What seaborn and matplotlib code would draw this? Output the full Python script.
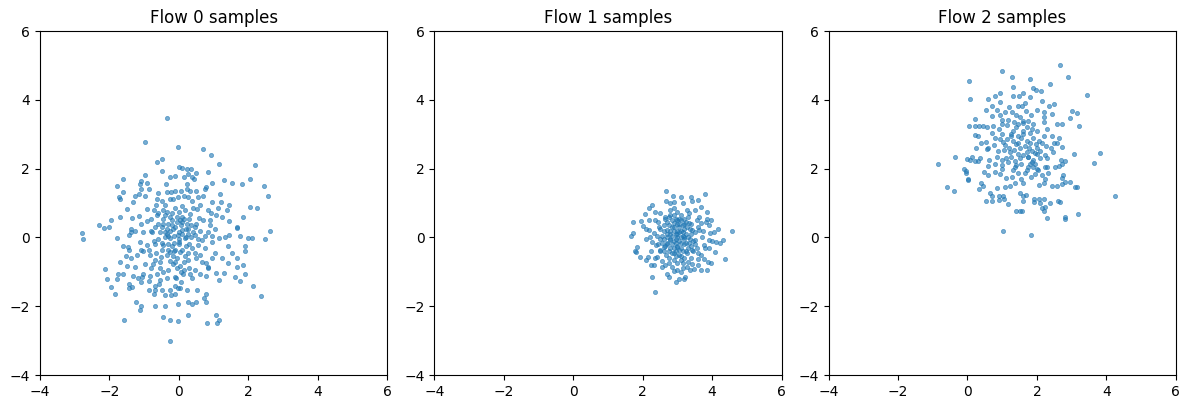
import numpy as np
import pandas as pd
import matplotlib
matplotlib.use("Agg")
import matplotlib.pyplot as plt
import seaborn as sns

titles = ["Flow 0 samples", "Flow 1 samples", "Flow 2 samples"]
ticks = [-4, -2, 0, 2, 4, 6]

# (x, y) samples
flow0_pts = [
    (-0.33,3.47),(-0.97,2.77),(-0.62,2.18),(-0.48,2.27),(-0.48,1.92),(-0.25,1.75),(-0.1,1.78),(-0.97,1.81),
    (-1.6,1.69),(-1.77,1.49),(-1.62,1.32),(-1.1,1.65),(-1.12,1.55),(-1.1,1.42),(-0.91,1.58),(-0.85,1.42),
    (-1.25,1.22),(-1.16,1.26),(-0.97,1.2),(-1.73,1.17),(-1.71,1.13),(-1.31,1.03),(-1.48,0.82),(-0.6,1.28),
    (-0.37,1.55),(-0.35,1.32),(-0.23,1.32),(-0.1,1.36),(-0.64,1.11),(-0.48,1.05),(-0.25,1.11),(-0.16,1.13),
    (-0.91,0.82),(-0.71,0.8),(-1.71,0.6),(-1.35,0.56),(-1.14,0.62),(-1.96,0.51),(-2.29,0.35),(-2.16,0.27),
    (-2.0,0.29),(-1.37,0.25),(-1.08,0.38),(-0.91,0.49),(-0.79,0.55),(-0.64,0.64),(-0.46,0.8),
    (-0.03,2.64),(0.68,2.56),(0.91,2.4),(1.14,2.15),(2.18,2.1),(-0.01,2.04),(0.1,2.02),(0.22,1.98),(0.35,1.98),
    (0.14,1.75),(0.27,1.84),(0.37,1.75),(0.43,1.69),(0.5,1.86),(0.85,1.9),(1.29,1.66),(1.52,1.58),(1.81,1.55),
    (2.06,1.69),(2.46,1.51),(2.56,1.22),(0.95,1.57),(0.22,1.55),(0.79,1.46),(0.76,1.42),(0.24,1.4),(0.06,1.34),
    (0.31,1.34),(0.49,1.34),(1.18,1.26),(0.14,1.22),(0.27,1.17),(0.54,1.18),(0.7,1.22),(0.95,1.03),(1.22,1.03),
    (0.39,1.07),(-0.03,1.17),(1.43,0.93),(2.06,0.89),(2.25,0.85),(1.39,0.8),(1.12,0.87),(0.83,0.8),(0.93,0.7),
    (1.24,0.6),(1.06,0.64),(1.85,0.6),(1.45,0.49),(1.68,0.29),(0.58,0.58),(0.52,0.83),(0.6,0.93),(0.08,0.91),
    (0.18,0.8),(0.01,0.74),(0.33,0.68),(0.89,0.51),(0.89,0.37),(0.47,0.31),(0.08,0.6),(0.03,0.51),(0.24,0.39),
    (-2.79,0.13),(-2.75,-0.05),(-1.77,-0.03),(-1.6,-0.26),(-1.46,-0.28),(-1.43,-0.36),(-1.37,0.15),(-1.44,0.07),
    (-1.25,0.19),(-1.12,-0.14),(-1.1,-0.36),(-1.52,-0.55),(-1.37,-0.61),(-1.69,-0.72),(-1.5,-0.84),(-2.14,-0.92),
    (-1.75,-1.05),(-1.6,-1.05),(-2.06,-1.21),(-1.79,-1.21),(-1.33,-1.13),(-1.18,-1.17),(-1.06,-1.15),(-1.44,-1.35),
    (-1.95,-1.44),(-1.44,-1.48),(-1.35,-1.44),(-1.83,-1.63),(-1.08,-1.29),(-0.87,-1.27),(-0.83,-1.11),(-1.04,-1.05),
    (-0.87,-1.53),(-0.73,-1.65),(-0.69,-1.54),(-0.68,-1.42),(-0.56,-1.36),(-0.54,-1.23),(-0.35,-1.19),(-0.5,-1.54),
    (-0.39,-1.67),(-0.25,-1.54),(-0.12,-1.42),(-0.02,-1.48),(-0.23,-1.67),(-0.08,-1.19),(-1.23,-1.89),(-1.1,-1.98),
    (-1.12,-2.12),(-0.68,-2.0),(-0.39,-2.0),(-0.02,-1.94),(-0.45,-2.31),(-0.25,-2.41),(-0.02,-2.43),(-1.58,-2.41),
    (-0.27,-3.02),(-1.02,0.15),(-0.77,0.17),(-0.71,-0.1),(-1.04,-0.38),(-0.83,-0.51),(-0.68,-0.65),(-0.52,-0.57),
    (-0.97,-0.78),(-0.75,-0.78),(-0.54,-0.71),(-0.25,-0.69),(-0.16,-0.78),(-0.06,-0.88),(-0.45,-0.22),(-0.25,-0.03),
    (-0.1,-0.36),(-0.25,-0.43),(-0.16,-0.55),(-0.91,-0.22),(-0.6,-0.05),(-0.39,0.17),(-0.16,0.26),(-0.02,0.07),
    (-0.45,-1.01),(-0.64,-1.05),
    (1.68,0.28),(2.62,0.19),(2.48,-0.05),(2.1,-0.03),(1.98,-0.03),(1.77,0.03),(1.45,0.07),(1.33,0.01),(1.9,-0.26),
    (1.9,-0.4),(1.54,-0.45),(1.41,-0.24),(1.25,-0.61),(1.04,-0.45),(1.66,-0.61),(1.41,-0.74),(1.85,-0.8),(1.66,-0.86),
    (0.95,-0.61),(0.83,-0.86),(1.06,-1.03),(1.31,-1.03),(1.14,-1.23),(1.62,-1.15),(1.75,-1.27),(1.9,-1.07),
    (2.14,-1.42),(2.35,-1.71),(0.78,-1.65),(0.72,-1.75),(0.78,-1.87),(0.52,-1.54),(0.5,-1.87),(0.27,-1.89),
    (0.39,-1.94),(0.22,-1.54),(0.27,-2.26),(1.08,-2.26),(1.14,-2.41),(1.1,-2.5),(0.81,-2.5),(-0.11,-1.64),
    (0.03,-1.48),(0.06,-1.29),(-0.11,-1.15),(0.12,-1.07),(0.31,-1.07),(0.39,-1.19),(0.62,-1.05),(0.78,-1.11),
    (0.47,-0.94),(0.29,-0.88),(0.03,-0.82),(0.85,-0.88),(0.78,-0.74),(0.66,-0.71),(0.49,-0.61),(0.27,-0.65),
    (0.03,-0.43),(0.18,-0.55),(0.08,0.21),(0.27,0.26),(0.47,0.07),(0.66,-0.07),(0.85,0.17),(1.04,0.26),(1.14,-0.03),
    (0.56,-0.22),(0.37,-0.32),(0.76,-0.32),(-0.01,-0.13),(0.18,-0.03),(0.95,-0.13),
    (-0.3,0.4),(-0.2,0.5),(-0.1,0.3),(0.1,0.1),(0.2,0.0),(-0.4,0.0),(-0.5,0.3),(-0.3,-0.2),(0.0,-0.2),(0.3,-0.2),
    (0.5,0.4),(0.6,0.2),(0.7,0.5),(-0.6,0.4),(-0.8,0.2),(-0.2,0.7),(0.3,0.55),(-0.35,-0.5),(0.15,-0.7),(-0.05,0.45),
    (-0.45,0.55),(-0.35,0.25),(-0.15,0.05),(0.05,0.35),(0.15,0.55),(-0.55,0.15),(-0.25,0.6),(-0.1,0.85),
    (-0.4,0.95),(0.4,0.15),(0.55,-0.05),(0.25,-0.45),(-0.05,-0.6),(-0.2,-0.25),(-0.5,-0.35),(-0.65,-0.45),
    (-0.3,0.05),(0.1,-0.35),(0.35,0.0),(-0.7,0.3),(-0.25,0.2),(0.0,0.15),(-0.45,0.4),(0.2,0.25),(-0.15,-0.15),
    (0.45,-0.45),(0.6,-0.5),(-0.85,-0.35),(-0.55,-0.9),(-0.3,-0.95),(0.15,-0.95),(0.4,0.85),(-0.65,0.95),
    (-0.35,0.75),(0.05,-1.0),(-0.8,-0.9),(0.75,0.05),(0.95,0.05),(-1.2,-0.5),(-1.25,-0.85),
    (-0.2,0.35),(-0.05,0.6),(-0.4,0.65),(-0.3,-0.35),(0.1,0.45),(0.0,-0.05),(-0.15,-0.4),(-0.5,-0.15),
    (0.25,0.1),(-0.6,0.7),(0.35,0.35),(-0.1,-0.7),(0.2,-0.25),(-0.7,-0.2),(-0.35,0.1),
]

flow1_pts = [
    (2.67,1.34),(2.88,1.22),(3.11,1.18),(3.38,1.17),(2.67,1.07),(2.78,1.01),(2.9,1.03),(3.15,0.99),(2.28,0.93),
    (2.19,0.85),(2.07,0.68),(2.36,0.74),(2.51,0.72),(2.65,0.6),(2.9,0.66),(2.17,0.51),(1.96,0.47),(1.71,0.45),
    (2.36,0.51),(2.0,0.33),(2.11,0.24),(1.65,0.04),(1.73,0.14),(2.09,-0.04),(1.84,-0.29),(1.78,-0.4),(1.82,-0.42),
    (1.92,-0.56),(2.15,-0.56),(2.09,-0.66),(2.24,-0.81),(2.32,-0.81),(2.55,-0.87),(2.26,-1.14),(2.76,-1.16),
    (2.95,-1.3),(3.05,-1.22),(3.18,-1.2),(2.36,-1.59),(2.9,-0.97),(3.15,-0.89),(2.76,-0.75),(2.55,-0.69),
    (2.42,-0.56),(2.67,-0.52),(2.38,-0.23),(2.28,-0.13),(2.51,-0.04),(2.32,0.12),(2.19,0.22),(2.46,0.31),
    (2.71,0.22),(2.9,0.41),(3.09,0.51),(3.28,0.8),(3.28,0.31),(2.8,-0.08),(2.99,-0.27),(3.18,0.02),(3.28,-0.46),
    (2.61,-0.27),(2.9,-0.46),(3.09,-0.66),(3.28,-0.85),(2.71,-0.17),(2.51,-0.36),
    (3.79,1.26),(3.43,1.07),(3.58,1.09),(3.69,0.88),(3.85,0.74),(3.5,0.8),(3.62,0.6),(3.85,0.53),(3.98,0.51),
    (3.81,0.45),(4.18,0.24),(4.04,0.16),(3.93,0.12),(4.56,0.18),(4.31,-0.08),(4.23,-0.17),(4.12,-0.13),(3.9,-0.08),
    (3.77,-0.23),(4.08,-0.42),(3.9,-0.31),(4.37,-0.64),(3.98,-0.74),(3.87,-0.72),(3.77,-0.64),(3.67,-0.52),
    (3.58,-0.64),(3.58,-0.81),(3.43,-0.77),(3.48,-0.91),(3.35,-0.95),(3.69,-0.95),(3.85,-0.95),(3.23,-1.16),
    (3.43,-0.36),(3.33,0.41),(3.43,0.22),(3.52,-0.08),(3.62,0.22),(3.33,-0.17),(3.33,0.7),(3.67,0.41),(3.71,0.02),
    (2.8,0.1),(2.9,-0.1),(3.0,0.0),(3.1,0.2),(3.2,-0.2),(3.0,0.4),(2.7,0.0),(2.85,0.3),(3.05,-0.35),(3.15,0.05),
    (2.95,-0.55),(3.25,0.45),(2.6,0.2),(2.55,-0.15),(2.75,-0.4),(3.4,0.1),(3.45,-0.4),(2.45,0.45),(2.4,0.05),
    (3.1,0.65),(2.9,0.85),(3.0,-0.75),(3.2,-0.6),(2.65,0.55),(3.35,-0.05),(2.25,-0.4),(2.2,0.0),(2.35,-0.6),
    (3.6,0.3),(3.5,-0.2),(3.8,-0.3),(3.75,0.2),(3.9,0.35),(4.0,-0.1),(2.85,-0.85),(3.1,-1.0),(2.7,-1.05),(2.5,-0.4),
    (3.3,0.6),(3.55,0.5),(2.95,0.55),(2.8,0.65),(3.05,0.3),(3.2,0.25),(2.65,-0.25),(3.15,-0.4),(3.4,-0.6),
    (3.6,-0.45),(2.9,0.2),(3.0,-0.25),
    (2.75,0.35),(2.85,-0.2),(2.95,0.1),(3.05,0.15),(3.1,-0.15),(2.8,-0.3),(2.95,-0.4),(3.15,0.35),(3.25,0.1),
    (3.3,-0.3),(2.7,0.45),(2.6,-0.05),(2.85,0.5),(3.0,0.75),(3.2,0.55),(3.35,0.25),(3.45,-0.1),(2.55,0.05),
    (2.75,-0.6),(3.05,-0.5),(3.25,-0.4),(2.9,-0.65),(3.15,-0.75),(2.6,0.35),(3.0,0.2),(2.85,0.05),(3.1,0.0),
    (2.7,-0.2),(3.2,-0.05),(2.95,-0.15),(3.4,0.4),(2.5,0.25),(3.5,0.15),(2.45,-0.2),(3.05,0.55),(2.8,0.8),
    (3.3,-0.7),(2.65,-0.8),(3.55,-0.3),(3.0,-0.95),
    (2.9,0.3),(3.0,0.1),(3.1,-0.3),(2.8,0.2),(2.95,-0.05),(3.15,0.15),(3.05,-0.1),(2.85,-0.45),(3.2,0.4),
    (2.7,0.1),(3.3,0.0),(2.6,-0.4),(3.4,-0.25),(2.75,0.6),(3.0,0.5),(3.1,-0.55),(2.9,-0.3),(3.25,-0.15),
    (2.8,-0.05),(3.05,0.4),
]

flow2_pts = [
    (0.03,4.55),(0.06,4.04),(0.03,3.23),(-0.36,2.34),(-0.01,2.28),(-0.86,2.13),
    (2.67,5.01),(0.99,4.84),(1.28,4.66),(1.8,4.6),(2.9,4.66),(1.32,4.37),(1.9,4.35),(2.38,4.45),(1.97,4.28),
    (2.13,4.26),(0.94,4.2),(1.61,4.2),(0.8,4.1),(0.59,4.02),(1.32,4.1),(1.48,4.1),(1.8,4.08),(0.94,3.93),
    (2.15,3.97),(2.48,3.87),(2.36,3.83),(0.71,3.81),(1.44,3.81),(1.57,3.81),(2.01,3.71),(0.53,3.7),(0.84,3.7),
    (1.07,3.66),(1.27,3.64),(1.69,3.67),(2.19,3.64),(3.01,3.67),(0.71,3.54),(0.94,3.56),(1.4,3.56),(1.82,3.56),
    (2.2,3.5),(2.44,3.58),(2.94,3.48),(0.23,3.44),(0.98,3.42),(1.17,3.42),(0.23,3.23),(0.34,3.25),(0.46,3.25),
    (0.57,3.21),(0.73,3.23),(0.9,3.15),(1.15,3.27),(1.46,3.31),(1.61,3.33),(1.9,3.31),(2.19,3.35),(2.57,3.29),
    (2.71,3.29),(3.2,3.25),(0.21,2.98),(0.3,2.96),(0.98,3.0),(1.24,2.94),(1.59,3.01),(1.8,3.05),(2.19,2.94),
    (2.44,2.94),(2.63,2.9),(0.38,2.74),(0.53,2.78),(0.76,2.69),(1.01,2.78),(1.07,2.69),(1.4,2.71),(1.78,2.61),
    (1.97,2.72),(2.26,2.67),(2.49,2.74),(2.57,2.74),(2.72,2.63),(0.24,2.59),(0.55,2.57),(0.88,2.51),(1.21,2.49),
    (1.46,2.43),(1.71,2.49),(1.99,2.43),(2.22,2.4),(2.46,2.49),(3.07,2.43),(0.13,2.34),(0.36,2.3),(0.61,2.24),
    (0.99,2.24),(1.38,2.22),(1.74,2.34),(1.9,2.24),(2.3,2.3),(2.69,2.24),
    (0.01,1.67),(0.34,1.4),(0.38,1.59),(0.46,1.49),(0.52,1.07),(0.71,1.05),(0.65,1.28),(0.71,1.2),(0.84,1.44),
    (0.9,1.09),(0.9,1.2),(1.01,1.22),(1.05,1.11),(1.17,0.97),(1.07,1.47),(1.21,1.51),(1.38,1.57),(1.61,1.57),
    (1.5,1.28),(1.61,1.22),(1.69,1.24),(1.61,1.05),(1.4,0.76),(1.5,0.78),(1.57,0.76),(1.92,1.11),(1.92,1.03),
    (2.05,1.13),(2.2,1.13),(2.09,0.99),(2.22,0.89),(2.15,0.85),(2.2,0.76),(2.38,1.01),(2.61,1.07),(2.65,1.03),
    (2.28,0.58),(2.8,0.54),(3.18,0.68),(1.01,0.19),(1.82,0.06),(2.05,1.53),(2.19,1.59),(2.44,1.51),(2.57,1.49),
    (2.71,1.55),(2.82,1.61),(2.95,1.61),(3.09,1.46),(3.15,1.46),(2.71,1.73),(2.76,1.82),(2.51,2.04),(2.63,2.08),
    (2.72,2.15),(2.8,2.21),(1.84,1.77),(1.94,1.84),(2.15,1.82),(2.22,1.71),(2.32,1.86),(1.65,1.86),(1.46,1.86),
    (1.27,1.77),(1.11,1.73),(0.94,1.84),(0.78,1.9),(0.59,1.82),(0.48,1.9),(0.59,2.08),(0.78,2.15),(0.98,2.1),
    (1.17,2.19),(1.36,2.06),(1.55,2.15),(1.74,2.06),(1.94,2.15),(2.03,1.96),(2.22,2.06),(0.21,2.21),(0.3,2.21),
    (-0.04,1.86),(-0.59,1.46),(-0.38,1.36),(-0.11,1.98),(-0.05,1.92),(0.01,1.69),(0.06,2.25),
    (4.25,1.2),(3.82,2.45),(3.65,2.16),(3.44,4.15),(3.15,3.63),(2.8,0.59),
    (1.5,2.6),(1.6,2.4),(1.7,2.8),(1.85,2.5),(2.0,2.6),(1.3,2.8),(1.2,2.6),(1.55,2.9),(1.9,2.9),(2.1,2.3),
    (1.3,3.1),(1.7,3.2),(2.0,3.1),(1.1,2.3),(1.4,2.1),(1.8,2.15),(2.4,2.6),(0.8,2.9),(1.0,3.3),(1.5,3.5),
    (1.35,2.55),(1.45,2.75),(1.65,2.65),(1.75,2.35),(1.85,2.2),(1.95,2.45),(2.05,2.8),(1.25,3.0),(1.6,3.1),
    (1.15,2.85),(1.4,3.2),(1.8,2.75),(1.9,2.05),(1.7,1.95),(2.1,2.5),(1.5,2.3),(1.25,2.35),(1.05,2.55),
    (0.95,2.85),(1.6,3.4),(1.75,3.4),(2.3,3.15),(2.15,2.75),(1.35,3.35),(0.7,3.05),(0.6,2.6),(1.0,2.0),
    (1.3,1.95),(2.0,2.0),(1.55,1.7),(1.45,2.95),(1.85,3.15),(2.3,2.05),(0.85,2.35),(1.2,3.8),(1.65,3.9),
]

fig, axes = plt.subplots(1, 3, figsize=(11.89, 4.09), dpi=100)
fig.subplots_adjust(left=0.0336, right=0.989, top=0.924, bottom=0.083, wspace=0.135)
for ax, pts, title in zip(axes, [flow0_pts, flow1_pts, flow2_pts], titles):
    df = pd.DataFrame(pts, columns=["x", "y"])
    sns.scatterplot(data=df, x="x", y="y", ax=ax, s=9, alpha=0.6,
                    color="#1f77b4", edgecolor="#1f77b4", linewidth=0.6)
    ax.set_xlim(-4, 6)
    ax.set_ylim(-4, 6)
    ax.set_xticks(ticks)
    ax.set_yticks(ticks)
    ax.set_xlabel("")
    ax.set_ylabel("")
    ax.set_title(title)

fig.savefig("out.png", dpi=100)
